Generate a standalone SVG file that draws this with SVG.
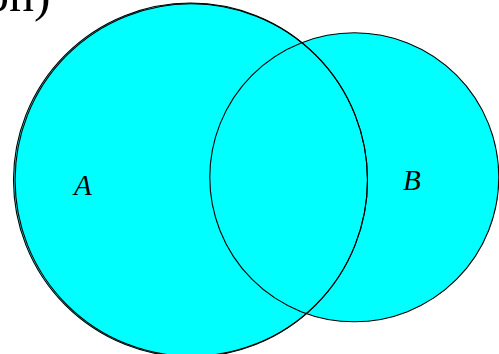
<svg xmlns="http://www.w3.org/2000/svg" width="499" height="354" viewBox="0 0 499 354">
<style>
.fill{fill:#00FFFF;stroke:none}
.edge{fill:none;stroke:#000;stroke-width:1.1}
.lbl{font-family:"Liberation Serif",serif;font-style:italic;font-size:29px;fill:#000}
.title{font-family:"Liberation Serif",serif;font-size:50px;fill:#000}
</style>
<rect width="499" height="354" fill="#fff"/>
<text class="title" x="-16" y="11">on)</text>
<g id="fills">
<circle class="fill" cx="190.5" cy="180" r="177"/>
<circle class="fill" cx="354.3" cy="177.3" r="144.5"/>
</g>
<g id="nodeA">
<circle class="edge" cx="190.5" cy="180" r="177"/>
<circle class="edge" cx="191.3" cy="180" r="176.2"/>
<text class="lbl" x="74" y="195">A</text>
</g>
<g id="nodeB">
<circle class="edge" cx="354.3" cy="177.3" r="144.5"/>
<text class="lbl" x="403" y="190">B</text>
</g>
<g id="connectors"></g>
</svg>
